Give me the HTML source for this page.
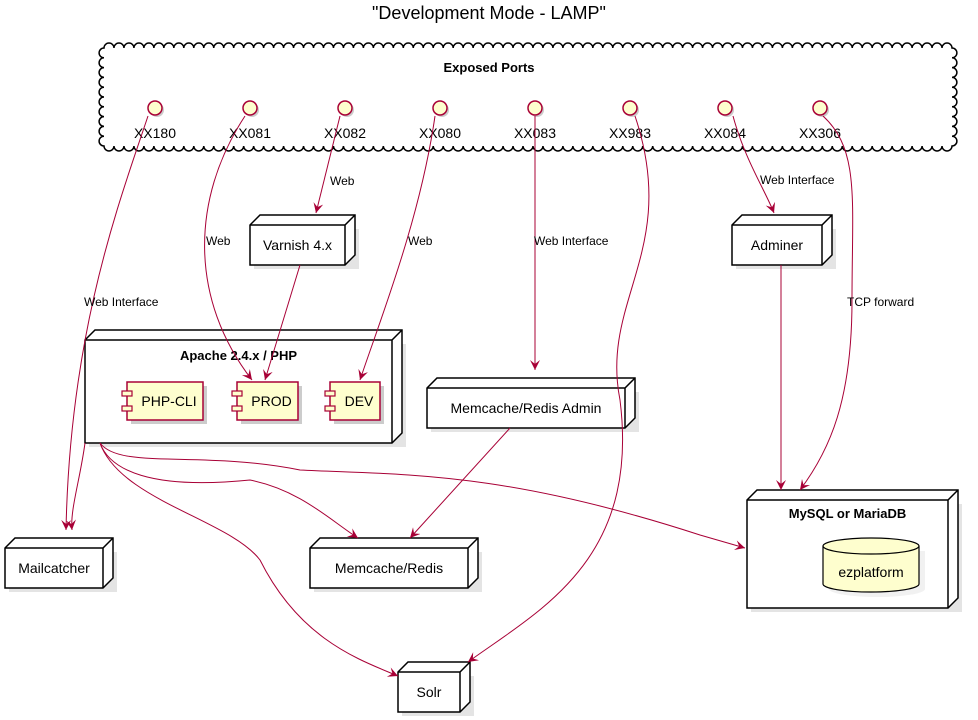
<!DOCTYPE html>
<html><head><meta charset="utf-8"><style>
body{margin:0;background:#fff;}
svg{display:block;font-family:"Liberation Sans","DejaVu Sans",sans-serif;}
</style></head><body>
<svg id="s" width="978" height="720" viewBox="0 0 978 720" xmlns="http://www.w3.org/2000/svg">
<defs>
<marker id="a" markerWidth="12" markerHeight="12" refX="10" refY="5" orient="auto" markerUnits="userSpaceOnUse">
<path d="M0,0 L10,5 L0,10 L4,5 Z" fill="#A80036"/>
</marker>
</defs>
<text x="489" y="19" font-size="18" text-anchor="middle">"Development Mode - LAMP"</text>
<path id="cloud" fill="#fff" stroke="#000" stroke-width="1.5"/>
<text x="489" y="72" font-size="13" font-weight="bold" text-anchor="middle">Exposed Ports</text>
<g id="ports"></g>
<g id="nodes"></g>
<g fill="none" stroke="#A80036" stroke-width="1" marker-end="url(#a)">
<path d="M148,116 C120,200 70,330 66,530"/>
<path d="M245,116 C190,200 190,300 252,380"/>
<path d="M340,116 L316,213"/>
<path d="M300,265 L265,380"/>
<path d="M435,116 C420,220 380,320 360,380"/>
<path d="M535,116 L535,370"/>
<path d="M733,116 C745,160 765,190 774,213"/>
<path d="M823,116 C860,150 852,200 852,300 C852,400 830,450 800,490"/>
<path d="M781,265 L781,490"/>
<path d="M510,428 L410,538"/>
<path d="M635,116 C680,250 600,300 620,400 C640,560 540,610 468,662"/>
<path d="M85,443 C80,480 70,510 72,530"/>
<path d="M100,443 C110,470 150,490 250,480 C300,490 330,520 358,538"/>
<path d="M100,443 C120,500 230,520 260,560 C300,640 360,660 398,676"/>
<path d="M100,443 C120,470 200,450 300,470 C400,475 500,470 700,535 L745,548"/>
</g>
<g font-size="12" fill="#000">
<text x="84" y="306">Web Interface</text>
<text x="206" y="245">Web</text>
<text x="330" y="185">Web</text>
<text x="408" y="245">Web</text>
<text x="534" y="245">Web Interface</text>
<text x="760" y="184">Web Interface</text>
<text x="847" y="306">TCP forward</text>
</g>
<g id="comps"></g>
<g>
<path d="M826,548 L826,586 A48,8 0 0 0 922,586 L922,548" fill="#e8e8e8" opacity=".6" transform="translate(3,3)"/>
<path d="M823,546 L823,584 A48,8 0 0 0 919,584 L919,546 A48,8 0 0 0 823,546 Z" fill="#FEFECE" stroke="#000" stroke-width="1.2"/>
<path d="M823,546 A48,8 0 0 0 919,546" fill="none" stroke="#000" stroke-width="1.2"/>
<text x="871" y="577" font-size="14" text-anchor="middle">ezplatform</text>
</g>
</svg>
<script>
var NS="http://www.w3.org/2000/svg";
function el(p,t,a,txt){var e=document.createElementNS(NS,t);for(var k in a)e.setAttribute(k,a[k]);if(txt)e.textContent=txt;p.appendChild(e);return e;}
(function(){
var x0=104,y0=48,x1=952,y1=146,r=5,d="";
var n=Math.round((x1-x0)/(2*r));var sx=(x1-x0)/n;
d+="M"+x0+","+y0;
for(var i=0;i<n;i++){d+=" A"+sx/2+","+sx/2+" 0 0 1 "+(x0+(i+1)*sx)+","+y0;}
var m=Math.round((y1-y0)/(2*r));var sy=(y1-y0)/m;
for(var i=0;i<m;i++){d+=" A"+sy/2+","+sy/2+" 0 0 1 "+x1+","+(y0+(i+1)*sy);}
for(var i=0;i<n;i++){d+=" A"+sx/2+","+sx/2+" 0 0 1 "+(x1-(i+1)*sx)+","+y1;}
for(var i=0;i<m;i++){d+=" A"+sy/2+","+sy/2+" 0 0 1 "+x0+","+(y1-(i+1)*sy);}
d+="Z";document.getElementById("cloud").setAttribute("d",d);
})();
var P=document.getElementById("ports");
var names=["XX180","XX081","XX082","XX080","XX083","XX983","XX084","XX306"];
for(var i=0;i<8;i++){var cx=155+i*95;
el(P,"circle",{cx:cx+2,cy:110,r:7,fill:"#ccc"});
el(P,"circle",{cx:cx,cy:108,r:7,fill:"#FEFECE",stroke:"#A80036","stroke-width":1.5});
el(P,"text",{x:cx,y:138,"font-size":14,"text-anchor":"middle"},names[i]);}
var N=document.getElementById("nodes");
function node(x,y,w,h,label,bold,ly){var d=10;
el(N,"rect",{x:x+4,y:y+4,width:w+d,height:h,fill:"#e4e4e4"});
el(N,"path",{d:"M"+x+","+y+" L"+(x+d)+","+(y-d)+" L"+(x+w+d)+","+(y-d)+" L"+(x+w+d)+","+(y+h-d)+" L"+(x+w)+","+(y+h)+" L"+x+","+(y+h)+" Z",fill:"#fff",stroke:"#000","stroke-width":1.5});
el(N,"path",{d:"M"+x+","+y+" L"+(x+w)+","+y+" L"+(x+w+d)+","+(y-d)+" M"+(x+w)+","+y+" L"+(x+w)+","+(y+h),fill:"none",stroke:"#000","stroke-width":1.5});
el(N,"text",{x:x+w/2,y:ly||(y+h/2+5),"font-size":bold?13:14,"font-weight":bold?"bold":"normal","text-anchor":"middle"},label);}
node(250,225,95,40,"Varnish 4.x");
node(732,225,90,40,"Adminer");
node(85,340,307,103,"Apache 2.4.x / PHP",true,360);
node(427,388,198,40,"Memcache/Redis Admin");
node(5,548,98,40,"Mailcatcher");
node(310,548,158,40,"Memcache/Redis");
node(747,500,201,108,"MySQL or MariaDB",true,518);
node(398,672,62,40,"Solr");
var C=document.getElementById("comps");
function comp(x,y,w,h,t){
el(C,"rect",{x:x+4,y:y+4,width:w,height:h,fill:"#ccc"});
el(C,"rect",{x:x,y:y,width:w,height:h,fill:"#FEFECE",stroke:"#A80036","stroke-width":1.5});
el(C,"rect",{x:x-5,y:y+9,width:10,height:5,fill:"#FEFECE",stroke:"#A80036","stroke-width":1.2});
el(C,"rect",{x:x-5,y:y+24,width:10,height:5,fill:"#FEFECE",stroke:"#A80036","stroke-width":1.2});
el(C,"text",{x:x+w/2+4,y:y+h/2+5,"font-size":14,"text-anchor":"middle"},t);}
comp(127,382,76,38,"PHP-CLI");
comp(237,382,61,38,"PROD");
comp(330,382,50,38,"DEV");
</script>
</body></html>
